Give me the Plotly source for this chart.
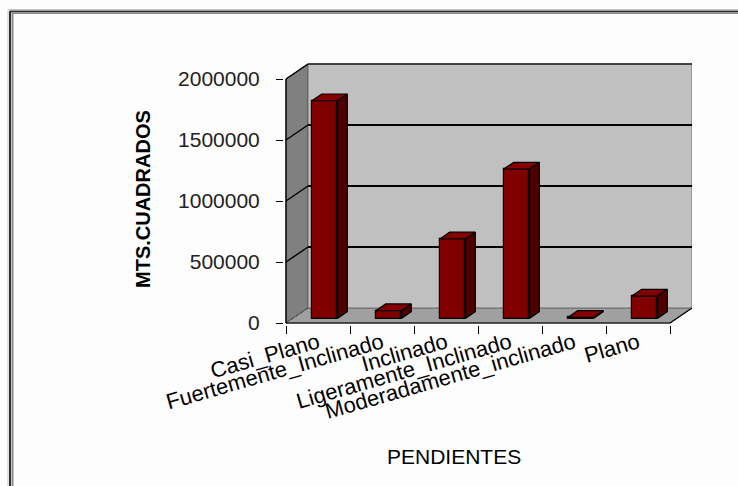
import plotly.graph_objects as go

# ---------------- data ----------------
categories = ["Casi_Plano", "Fuertemente_Inclinado", "Inclinado",
              "Ligeramente_Inclinado", "Moderadamente_inclinado", "Plano"]
values = [1785000, 64000, 652000, 1225000, 9000, 184000]
y_ticks = [0, 500000, 1000000, 1500000, 2000000]
y_tick_labels = ["0", "500000", "1000000", "1500000", "2000000"]
y_title = "MTS.CUADRADOS"
x_title = "PENDIENTES"

# ---------------- geometry (pixels) ----------------
W, H = 738, 486
L_PX, R_PX, T_PX, B_PX = 284, 692, 63, 325       # plot rectangle
X0_PX, Y0_PX = 286, 323                           # front origin (-0.5, 0)
PX_PER_CAT = 64.0
PX_PER_UNIT = 244.0 / 2000000.0
x_range = [-0.5 - (X0_PX - L_PX) / PX_PER_CAT, -0.5 + (R_PX - X0_PX) / PX_PER_CAT]
y_range = [-(B_PX - Y0_PX) / PX_PER_UNIT, (Y0_PX - T_PX) / PX_PER_UNIT]

DX = 22.0 / PX_PER_CAT            # depth offset (category units)
DY = 15.0 / PX_PER_UNIT           # depth offset (value units)
YMAX = y_ticks[-1]
N = len(categories)
XL, XR = -0.5, N - 0.5

FRONT, BACK = 0.30, 0.75          # bar depth fractions
BAR_W = 0.40

def ppx(px):
    return (px - L_PX) / (R_PX - L_PX)

def ppy(py):
    return (B_PX - py) / (B_PX - T_PX)

font_family = "Liberation Sans, Arial, sans-serif"

shapes = []
# left wall
shapes.append(dict(type="path", layer="below",
                   path=f"M {XL},0 L {XL+DX},{DY} L {XL+DX},{YMAX+DY} L {XL},{YMAX} Z",
                   fillcolor="#808080", line=dict(color="#303030", width=1)))
# floor
shapes.append(dict(type="path", layer="below",
                   path=f"M {XL},0 L {XR},0 L {XR+DX},{DY} L {XL+DX},{DY} Z",
                   fillcolor="#a0a0a0", line=dict(color="#606060", width=1)))
# back wall
shapes.append(dict(type="rect", layer="below", x0=XL+DX, x1=XR+DX, y0=DY, y1=YMAX+DY,
                   fillcolor="#c0c0c0", line=dict(color="#707070", width=1)))
# back wall top edge
shapes.append(dict(type="line", layer="below", x0=XL+DX, x1=XR+DX, y0=YMAX+DY, y1=YMAX+DY,
                   line=dict(color="#202020", width=1.5)))
# gridlines
for v in y_ticks[1:-1]:
    shapes.append(dict(type="line", layer="below", x0=XL+DX, x1=XR+DX, y0=v+DY, y1=v+DY,
                       line=dict(color="black", width=2)))
for v in y_ticks[1:]:
    shapes.append(dict(type="line", layer="below", x0=XL, x1=XL+DX, y0=v, y1=v+DY,
                       line=dict(color="black", width=1.5)))
shapes.append(dict(type="line", layer="below", x0=XL, x1=XL+DX, y0=0, y1=DY,
                   line=dict(color="#404040", width=1, dash="dot")))
# front axis lines
shapes.append(dict(type="line", x0=XL, x1=XL, y0=0, y1=YMAX, line=dict(color="black", width=1.2)))
shapes.append(dict(type="line", x0=XL, x1=XR, y0=0, y1=0, line=dict(color="black", width=1.2)))
shapes.append(dict(type="line", x0=XR, x1=XR+DX, y0=0, y1=DY, line=dict(color="black", width=1.2)))

# outer frame (paper coordinates)
frame = [
    (8, 10, 8, H, "#c8c8c8", 1), (10, 11, 10, H, "#303030", 2), (12.5, 13, 12.5, H, "#8a8a8a", 2),
    (8, 9.5, W, 9.5, "#c8c8c8", 1), (10, 11.5, W, 11.5, "#303030", 2), (12, 13.5, W, 13.5, "#8a8a8a", 1),
]
for x0, y0, x1, y1, c, w in frame:
    shapes.append(dict(type="line", xref="paper", yref="paper",
                       x0=ppx(x0), x1=ppx(x1), y0=ppy(y0), y1=ppy(y1),
                       line=dict(color=c, width=w)))

fig = go.Figure()

# bar front faces
base = FRONT * DY
x_front = [i + FRONT * DX for i in range(N)]
fig.add_trace(go.Bar(x=x_front, y=values, base=base, width=BAR_W,
                     marker=dict(color="#800000", line=dict(color="black", width=1.2)),
                     hoverinfo="skip", showlegend=False))

# side and top faces computed from values
ddx = (BACK - FRONT) * DX
ddy = (BACK - FRONT) * DY
side_x, side_y, top_x, top_y = [], [], [], []
for xc, v in zip(x_front, values):
    xl, xr = xc - BAR_W / 2, xc + BAR_W / 2
    side_x += [xr, xr + ddx, xr + ddx, xr, xr, None]
    side_y += [base, base + ddy, base + v + ddy, base + v, base, None]
    top_x += [xl, xr, xr + ddx, xl + ddx, xl, None]
    top_y += [base + v, base + v, base + v + ddy, base + v + ddy, base + v, None]
fig.add_trace(go.Scatter(x=side_x, y=side_y, mode="lines", fill="toself",
                         fillcolor="#4e0000", line=dict(color="black", width=1.2),
                         hoverinfo="skip", showlegend=False))
fig.add_trace(go.Scatter(x=top_x, y=top_y, mode="lines", fill="toself",
                         fillcolor="#850000", line=dict(color="black", width=1.2),
                         hoverinfo="skip", showlegend=False))

fig.update_layout(
    width=W, height=H,
    margin=dict(l=L_PX, r=W - R_PX, t=T_PX, b=H - B_PX, pad=0),
    paper_bgcolor="#fdfdfd", plot_bgcolor="rgba(0,0,0,0)",
    font=dict(family=font_family, size=21, color="black"),
    showlegend=False, bargap=0,
    shapes=shapes,
    xaxis=dict(range=x_range, tickmode="array", tickvals=list(range(N)), ticktext=categories,
               tickangle=-16, ticks="", showgrid=False, zeroline=False, showline=False,
               tickfont=dict(size=22, color="black"), fixedrange=True,
               minor=dict(tickmode="array", tickvals=[i - 0.5 for i in range(N + 1)],
                          ticks="outside", ticklen=8, tickcolor="black", tickwidth=1.2,
                          showgrid=False)),
    yaxis=dict(range=y_range, tickmode="array", tickvals=y_ticks, ticktext=y_tick_labels,
               ticks="outside", ticklen=7, tickcolor="black", tickwidth=1.2,
               showgrid=False, zeroline=False, showline=False,
               ticklabelstandoff=12, tickfont=dict(size=21, color="#222222"), fixedrange=True),
    annotations=[
        dict(text=f"<b>{y_title}</b>", xref="paper", yref="paper", x=ppx(143), y=ppy(199),
             showarrow=False, textangle=-90, font=dict(size=20, color="black"),
             xanchor="center", yanchor="middle"),
        dict(text=x_title, xref="paper", yref="paper", x=ppx(454), y=ppy(456),
             showarrow=False, font=dict(size=21, color="black"),
             xanchor="center", yanchor="middle"),
    ],
)

fig.write_html("out.html")
